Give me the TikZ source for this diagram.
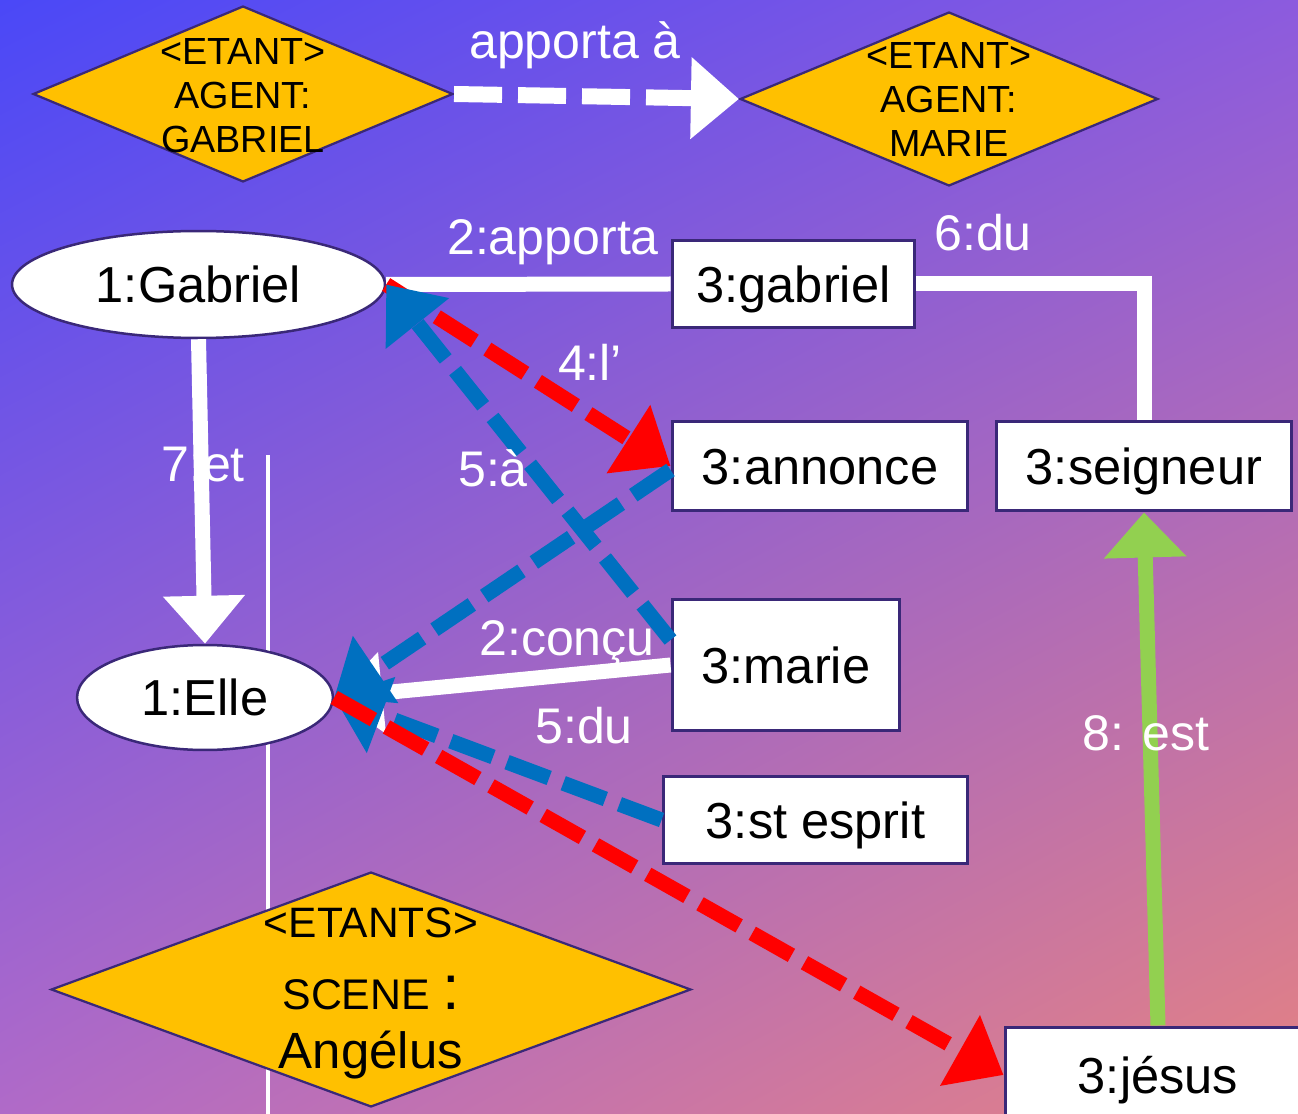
\documentclass[tikz,border=0pt]{standalone}
\usepackage{fontspec}
\setmainfont{Liberation Sans}
\usetikzlibrary{shapes.geometric,arrows.meta,calc,shadings}
\definecolor{bgTL}{HTML}{4A48F7}
\definecolor{bgTR}{HTML}{8C5BDE}
\definecolor{bgBL}{HTML}{B06AC8}
\definecolor{bgBR}{HTML}{E58282}
\definecolor{gold}{HTML}{FFC000}
\definecolor{edgec}{HTML}{3A2878}
\definecolor{bluel}{HTML}{0070C0}
\definecolor{greenl}{HTML}{92D050}
\definecolor{redl}{HTML}{FF0000}
\newcommand\ndfont{\fontsize{28.8pt}{34pt}\selectfont}
\newcommand\lbfont{\fontsize{28.5pt}{34pt}\selectfont}
\newcommand\dgfont{\fontsize{21.5pt}{25.2pt}\selectfont}
\begin{document}
\begin{tikzpicture}[x=0.02cm,y=-0.02cm,
  box/.style={draw=edgec,line width=0.6mm,fill=white,rectangle,inner sep=0pt,font=\ndfont,text height=20.6pt,text depth=0pt},
  oval/.style={draw=edgec,line width=0.5mm,fill=white,ellipse,inner sep=0pt,font=\ndfont,text height=20.6pt,text depth=0pt},
  dia/.style={draw=edgec,line width=0.45mm,fill=gold,diamond,inner sep=0pt},
  dtxt/.style={inner sep=0pt,align=center,font=\dgfont,text=black},
  lbl/.style={text=white,font=\lbfont,inner sep=0pt},
  wline/.style={draw=white,line width=3mm},
  dsh/.style={line width=3mm,dash pattern=on 9mm off 3mm},
  bigtip/.style={-{Triangle[length=10mm,width=15.6mm]}},
]
\useasboundingbox (0,0) rectangle (1298,1114);
\clip (0,0) rectangle (1298,1114);
\shade[upper left=bgTL,upper right=bgTR,lower left=bgBL,lower right=bgBR] (0,0) rectangle (1298,1114);

% thin vertical line
\draw[white,line width=0.8mm] (268,455) -- (268,1120);

% diamonds
\node[dia,minimum width=8.4cm,minimum height=3.52cm] (d1) at (243,94) {};
\node[dtxt] (d1t) at (243,95.5) {<ETANT>\\AGENT:\\GABRIEL};
\node[dia,minimum width=8.36cm,minimum height=3.48cm] (d2) at (949,99) {};
\node[dtxt] (d2t) at (949,99.5) {<ETANT>\\AGENT:\\MARIE};
\node[dia,minimum width=12.8cm,minimum height=4.7cm] (d3) at (371,989.5) {};
\node[inner sep=0pt,anchor=base,font=\fontsize{24.2pt}{28pt}\selectfont] (d3a) at (371,937) {<ETANTS>};
\node[inner sep=0pt,anchor=base,font=\fontsize{24.4pt}{28pt}\selectfont] (d3b) at (371,1009) {SCENE {\fontsize{36pt}{36pt}\selectfont :}};
\node[inner sep=0pt,anchor=base,font=\fontsize{29pt}{32pt}\selectfont] (d3c) at (371,1068) {Angélus};

% ellipses
\node[oval,minimum width=7.46cm,minimum height=2.14cm] (g) at (198.5,284.5) {1:Gabriel};
\node[oval,minimum width=5.12cm,minimum height=2.1cm] (e) at (205,697.5) {1:Elle};

% boxes
\node[box,minimum width=4.86cm,minimum height=1.76cm] (gb) at (793.5,284) {3:gabriel};
\node[box,minimum width=5.92cm,minimum height=1.8cm] (an) at (820,466) {3:annonce};
\node[box,minimum width=5.92cm,minimum height=1.8cm] (sg) at (1144,466) {3:seigneur};
\node[box,minimum width=4.56cm,minimum height=2.64cm] (m) at (786,665) {3:marie};
\node[box,minimum width=6.1cm,minimum height=1.76cm] (se) at (815.5,820) {3:st esprit};
\node[box,minimum width=6.12cm,minimum height=1.92cm] (js) at (1158,1075) {3:jésus};

% connectors
\draw[white,line width=3.2mm,dash pattern=on 9.6mm off 3.2mm,-{Triangle[length=9.6mm,width=15.8mm]}] (d1.east) -- (d2.west);
\draw[wline] (g.east) -- (gb.west);
\draw[wline] (gb.east) -| (sg.north);
\draw[wline,-{Triangle[length=9.6mm,width=15.8mm]}] (g.south) -- (e.north);
\draw[wline,-{Triangle[length=9.6mm,width=15.8mm]}] (m.west) -- (e.east);
\draw[redl,dsh,bigtip] (g.east) -- (an.west);
\draw[bluel,dsh,bigtip] ($(m.west)+(0,-25)$) -- (g.east);
\draw[bluel,dsh,bigtip] ($(an.west)+(0,4)$) -- (e.east);
\draw[bluel,dsh,bigtip] (se.west) -- (e.east);
\draw[redl,dsh,bigtip] (e.east) -- (js.west);
\draw[greenl,line width=3mm,-{Triangle[length=9mm,width=16mm]}] (js.north) -- (sg.south);

% labels
\node[lbl] (la) at (575,45) {apporta à};
\node[lbl] (lb) at (553,242) {2:apporta};
\node[lbl] (lc) at (983,233) {6:du};
\node[lbl] (ld) at (590,362) {4:l’};
\node[lbl] (le) at (493,468) {5:à};
\node[lbl] (lf) at (203,465) {7:et};
\node[lbl] (lg) at (567,643) {2:conçu};
\node[lbl] (lh) at (584,726) {5:du};
\node[lbl] (li) at (1146,733) {8: est};
\end{tikzpicture}
\end{document}
